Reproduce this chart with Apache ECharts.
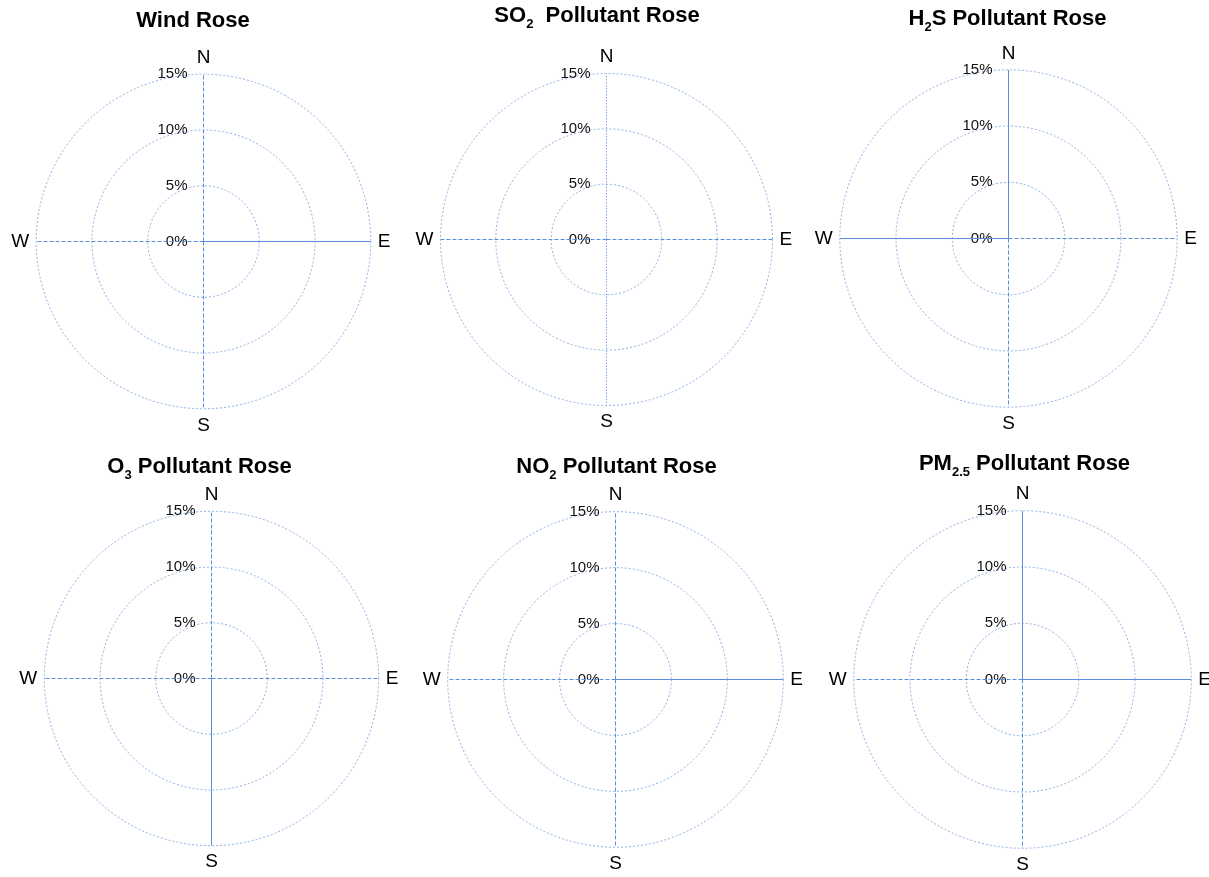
<!DOCTYPE html>
<html>
<head>
<meta charset="utf-8">
<script src="https://cdn.jsdelivr.net/npm/echarts@6/dist/echarts.min.js"></script>
<style>
  html, body { margin: 0; padding: 0; background: #fff; }
  #chart { width: 1209px; height: 877px; }
</style>
</head>
<body>
<div id="chart"></div>
<script>
// compass directions, one every 90 degrees clockwise from north
const directions = ['N', 'E', 'S', 'W'];
const directionAngles = [0, 90, 180, 270];
// radius ticks in percent
const radiusTicks = [0, 5, 10, 15];
const radiusMax = 15;
// spoke runs from centre to outer ring
const spokeExtent = [0, 15];

// title pieces: [text, subscript, rest]
const titleParts = [
  ['Wind Rose', '', ''],
  ['SO', '2', '  Pollutant Rose'],
  ['H', '2', 'S Pollutant Rose'],
  ['O', '3', ' Pollutant Rose'],
  ['NO', '2', ' Pollutant Rose'],
  ['PM', '2.5', ' Pollutant Rose']
];

// layout of each panel (px)
const panels = [
  { cx: 203.5, cy: 241.5, r: 167.3, tx: 193, ty: 20.5 },
  { cx: 606.5, cy: 239.5, r: 166, tx: 597, ty: 16 },
  { cx: 1008.5, cy: 238.5, r: 168.7, tx: 1007.5, ty: 19 },
  { cx: 211.5, cy: 678.5, r: 167.2, tx: 199.5, ty: 466.5 },
  { cx: 615.5, cy: 679.5, r: 167.8, tx: 616.5, ty: 466.5 },
  { cx: 1022.5, cy: 679.5, r: 168.8, tx: 1024.5, ty: 463.5 }
];

// line type of each spoke N, E, S, W
const spokeTypes = [
  ['dashed', 'solid', 'dashed', 'dashed'],
  ['dotted', 'dashed', 'dotted', 'dashed'],
  ['solid', 'dashed', 'dashed', 'solid'],
  ['dashed', 'dashed', 'solid', 'dashed'],
  ['dashed', 'solid', 'dashed', 'dashed'],
  ['solid', 'solid', 'dashed', 'dashed']
];

const font = 'Liberation Sans, Arial, sans-serif';
const ringColor = '#8db0e6';
const spokeColor = '#5a8ddb';

const dashFor = (t) => {
  if (t === 'dashed') return [4, 2];
  if (t === 'dotted') return [1.5, 1.5];
  return 'solid';
};

const chart = echarts.init(document.getElementById('chart'), null, { renderer: 'canvas' });

const title = [], polar = [], angleAxis = [], radiusAxis = [], series = [];

panels.forEach((p, i) => {
  const [a, sub, rest] = titleParts[i];
  const text = sub ? `{b|${a}}{s|${sub}}{b|${rest}}` : `{b|${a}}`;
  title.push({
    text,
    left: p.tx,
    top: p.ty - 15,
    textAlign: 'center',
    padding: 0,
    textStyle: {
      rich: {
        b: { fontFamily: font, fontSize: 22, fontWeight: 'bold', color: '#000', lineHeight: 30 },
        s: { fontFamily: font, fontSize: 13, fontWeight: 'bold', color: '#000', verticalAlign: 'bottom' }
      }
    }
  });

  polar.push({ center: [p.cx, p.cy], radius: p.r });

  angleAxis.push({
    polarIndex: i,
    type: 'value',
    min: 0,
    max: 360,
    interval: 90,
    startAngle: 90,
    clockwise: true,
    axisLine: { show: false },
    axisTick: { show: false },
    splitLine: { show: false },
    axisLabel: {
      margin: 7,
      fontFamily: font,
      fontSize: 19,
      color: '#000',
      formatter: (v) => directions[directionAngles.indexOf(v % 360)]
    }
  });

  radiusAxis.push({
    polarIndex: i,
    type: 'value',
    min: radiusTicks[0],
    max: radiusMax,
    interval: radiusTicks[1] - radiusTicks[0],
    axisLine: { show: false },
    axisTick: { show: false },
    axisLabel: {
      margin: 16,
      fontFamily: font,
      fontSize: 15,
      color: '#111',
      formatter: '{value}%'
    },
    splitLine: { show: true, lineStyle: { color: ringColor, type: [2, 2], width: 1 } },
    z: 1
  });

  directions.forEach((d, k) => {
    const t = spokeTypes[i][k];
    series.push({
      name: d,
      type: 'line',
      coordinateSystem: 'polar',
      polarIndex: i,
      symbol: 'none',
      silent: true,
      data: spokeExtent.map(v => [v, directionAngles[k]]),
      lineStyle: {
        color: t === 'dotted' ? '#7fa6e3' : spokeColor,
        width: 1,
        type: dashFor(t)
      },
      z: 3
    });
  });
});

chart.setOption({
  animation: false,
  backgroundColor: '#fff',
  title,
  polar,
  angleAxis,
  radiusAxis,
  series
});
</script>
</body>
</html>
